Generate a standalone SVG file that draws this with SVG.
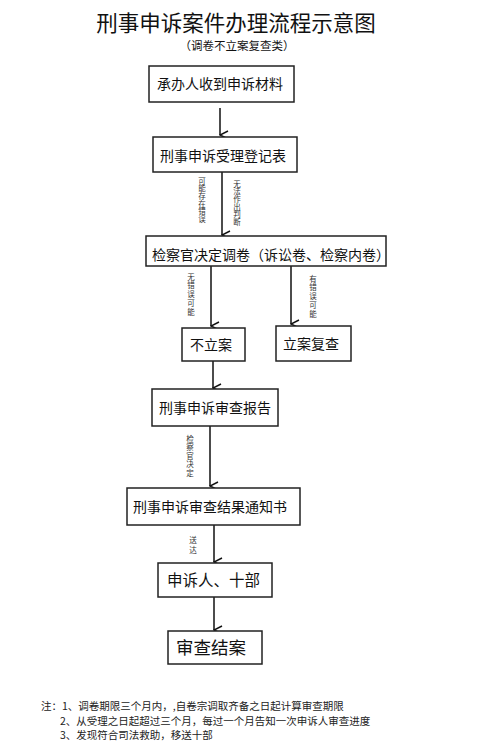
<svg xmlns="http://www.w3.org/2000/svg" width="500" height="754" viewBox="0 0 500 754">
<style>
text{font-family:"Noto Sans CJK SC","Liberation Sans",sans-serif;fill:#111}
.box{fill:#fff;stroke:#222;stroke-width:1.5}
.t{font-size:14px}
.lbl{font-size:7.5px;fill:#333;writing-mode:tb;glyph-orientation-vertical:0}
.note{font-size:10.5px;fill:#222}
.con line{stroke:#111;stroke-width:1.5}
</style>
<defs>
<marker id="ah" viewBox="0 0 10 10" refX="5" refY="9" markerWidth="10" markerHeight="10" markerUnits="userSpaceOnUse" orient="auto-start-reverse">
<path d="M1,1 L5,9 L9,1" fill="none" stroke="#111" stroke-width="1.4"/>
</marker>
</defs>
<rect width="500" height="754" fill="#fff"/>
<text x="236" y="31" font-size="21.5" text-anchor="middle">刑事申诉案件办理流程示意图</text>
<text x="237" y="50" font-size="11.5" text-anchor="middle">（调卷不立案复查类）</text>

<g class="con">
<line x1="220" y1="108" x2="220" y2="135" marker-end="url(#ah)"/>
<line x1="222" y1="172" x2="222" y2="235" marker-end="url(#ah)"/>
<line x1="211" y1="266" x2="211" y2="326" marker-end="url(#ah)"/>
<line x1="291" y1="266" x2="291" y2="324" marker-end="url(#ah)"/>
<line x1="213" y1="361" x2="213" y2="388" marker-end="url(#ah)"/>
<line x1="210" y1="426" x2="210" y2="486" marker-end="url(#ah)"/>
<line x1="214" y1="525" x2="214" y2="562" marker-end="url(#ah)"/>
<line x1="214" y1="597" x2="214" y2="630" marker-end="url(#ah)"/>
<text class="lbl" x="202" y="177" letter-spacing="0.2">可能存在错误</text>
<text class="lbl" x="237" y="180" letter-spacing="0.2">无法作出判断</text>
<text class="lbl" x="191" y="273" letter-spacing="1.3">无错误可能</text>
<text class="lbl" x="313" y="275" letter-spacing="1.3">有错误可能</text>
<text class="lbl" x="190" y="435" letter-spacing="1.1">检察官决定</text>
<text class="lbl" x="193" y="536" letter-spacing="2.5">送达</text>
</g>

<g id="n1"><rect class="box" x="149" y="66" width="145" height="36"/><text class="t" x="157" y="89">承办人收到申诉材料</text></g>
<g id="n2"><rect class="box" x="153" y="137" width="144" height="35"/><text class="t" x="160" y="161">刑事申诉受理登记表</text></g>
<g id="n3"><rect class="box" x="146" y="236" width="240" height="30"/><text class="t" x="152" y="260">检察官决定调卷（诉讼卷、检察内卷）</text></g>
<g id="n4"><rect class="box" x="182" y="328" width="63" height="33"/><text class="t" x="190" y="350">不立案</text></g>
<g id="n5"><rect class="box" x="276" y="326" width="75" height="35"/><text class="t" x="283" y="349">立案复查</text></g>
<g id="n6"><rect class="box" x="152" y="389" width="126" height="37"/><text class="t" x="159" y="413">刑事申诉审查报告</text></g>
<g id="n7"><rect class="box" x="127" y="488" width="173" height="37"/><text class="t" x="133" y="512">刑事申诉审查结果通知书</text></g>
<g id="n8"><rect class="box" x="158" y="563" width="114" height="34"/><text x="167" y="586" font-size="15.5">申诉人、十部</text></g>
<g id="n9"><rect class="box" x="168" y="631" width="94" height="33"/><text x="176" y="654" font-size="17.5">审查结案</text></g>

<text class="note" x="41" y="710">注：1、调卷期限三个月内，,自卷宗调取齐备之日起计算审查期限</text>
<text class="note" x="60" y="725">2、从受理之日起超过三个月，每过一个月告知一次申诉人审查进度</text>
<text class="note" x="60" y="739">3、发现符合司法救助，移送十部</text>
</svg>
